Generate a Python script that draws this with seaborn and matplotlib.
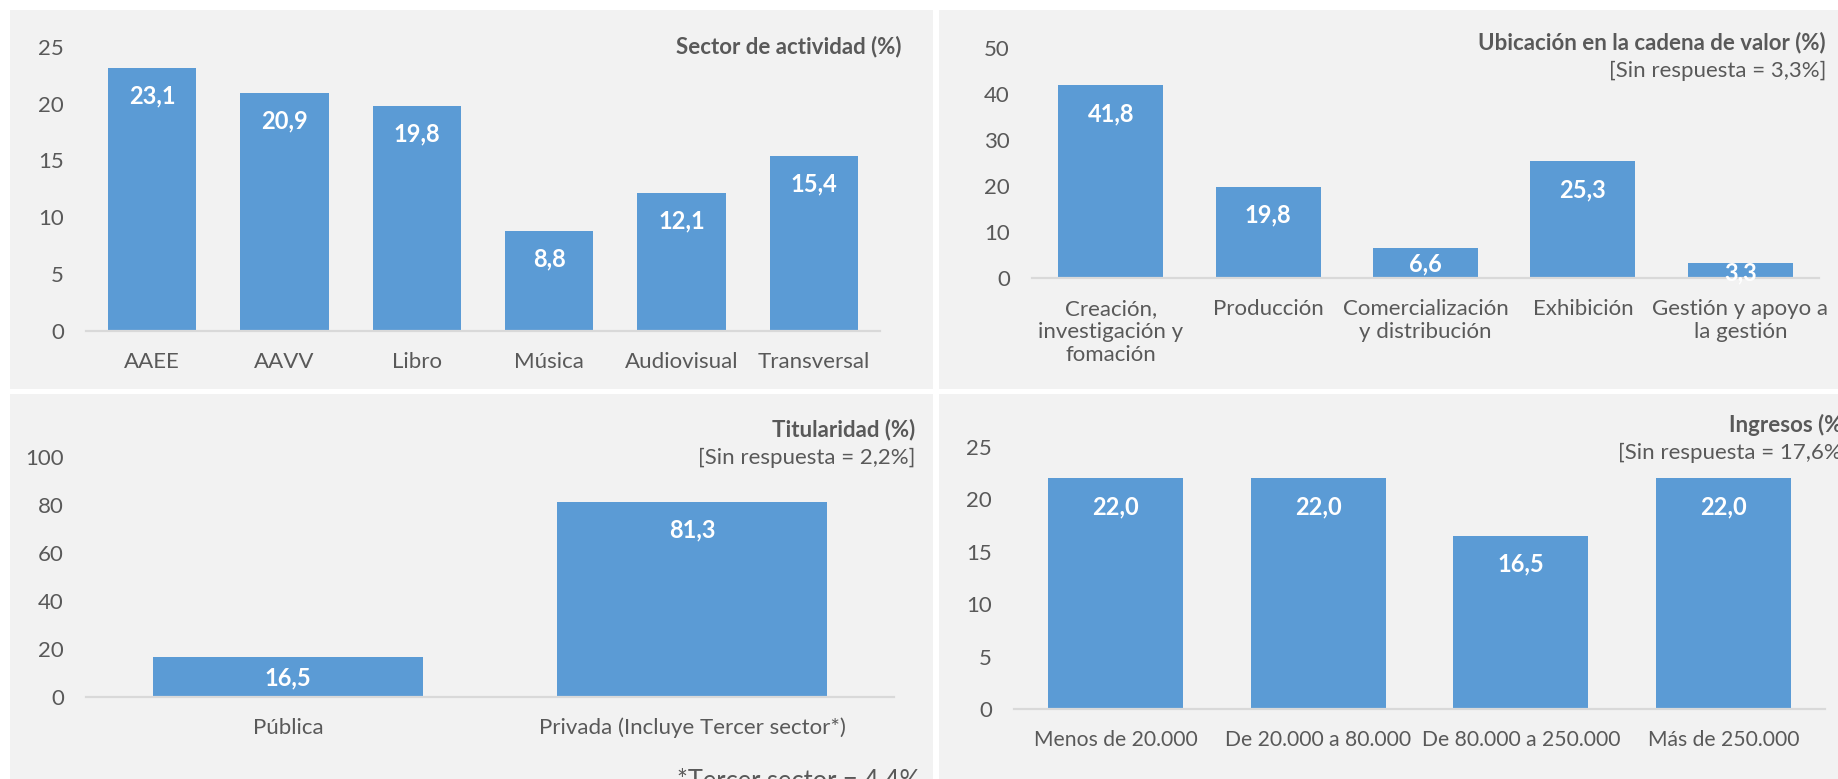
import numpy as np
import pandas as pd
import seaborn as sns
import matplotlib.pyplot as plt
from matplotlib.patches import Rectangle

# -------------------------------------------------------------------------
# Data
# -------------------------------------------------------------------------
sector_labels = ['AAEE', 'AAVV', 'Libro', 'Música', 'Audiovisual', 'Transversal']
sector_values = [23.1, 20.9, 19.8, 8.8, 12.1, 15.4]

cadena_labels = ['Creación,\ninvestigación y\nfomación', 'Producción',
                 'Comercialización\ny distribución', 'Exhibición',
                 'Gestión y apoyo a\nla gestión']
cadena_values = [41.8, 19.8, 6.6, 25.3, 3.3]

titular_labels = ['Pública', 'Privada (Incluye Tercer sector*)']
titular_values = [16.5, 81.3]

ingresos_labels = ['Menos de 20.000', 'De 20.000 a 80.000',
                   'De 80.000 a 250.000', 'Más de 250.000']
ingresos_values = [22.0, 22.0, 16.5, 22.0]

# -------------------------------------------------------------------------
# Style
# -------------------------------------------------------------------------
sns.set_theme(style='white')
plt.rcParams['font.family'] = ['Lato', 'DejaVu Sans']

BAR = '#5B9BD5'
PANEL = '#F2F2F2'
TEXT = '#595959'
AXLINE = '#D9D9D9'
FS = 16

W, H = 1838, 779
fig = plt.figure(figsize=(W / 100, H / 100), dpi=100, facecolor='white')


def fx(x):
    return x / W


def fy(y):
    return 1 - y / H


# grey panel backgrounds (pixel boxes: left, top, right, bottom)
for l, t, r, b in [(10, 10, 933, 389), (939, 10, 1845, 389),
                   (10, 394, 933, 785), (939, 394, 1845, 785)]:
    fig.patches.append(Rectangle((fx(l), fy(b)), fx(r - l), (b - t) / H,
                                 transform=fig.transFigure, facecolor=PANEL,
                                 edgecolor='none', zorder=-5))


def make_panel(left, right, top, bottom, labels, values, ymax, ystep,
               linesp=1.15, xfs=FS):
    ax = fig.add_axes([fx(left), fy(bottom), fx(right - left), (bottom - top) / H])
    ax.set_facecolor('none')
    df = pd.DataFrame({'cat': labels, 'val': values})
    sns.barplot(data=df, x='cat', y='val', color=BAR, saturation=1,
                width=0.667, linewidth=0, ax=ax)
    ax.set_xlim(-0.5, len(labels) - 0.5)
    ax.set_ylim(0, ymax)
    ax.set_yticks(np.arange(0, ymax + 1, ystep))
    ax.set_xlabel('')
    ax.set_ylabel('')
    for s in ['top', 'left', 'right']:
        ax.spines[s].set_visible(False)
    ax.spines['bottom'].set_color(AXLINE)
    ax.spines['bottom'].set_linewidth(1.6)
    ax.spines['bottom'].set_zorder(3)
    ax.tick_params(axis='both', length=0, labelsize=FS, labelcolor=TEXT)
    ax.tick_params(axis='y', pad=16)
    ax.tick_params(axis='x', pad=15, labelsize=xfs)
    for lab in ax.get_xticklabels():
        lab.set_linespacing(linesp)

    # value labels inside the top of each bar
    ppu = (bottom - top) / ymax
    for i, v in enumerate(values):
        bar_px = v * ppu
        off = min(28, bar_px * 0.45 + 3)
        ax.annotate(f'{v:.1f}'.replace('.', ','), xy=(i, v), xytext=(0, -off * 0.72),
                    textcoords='offset points', ha='center', va='center',
                    color='white', fontsize=FS + 1, fontweight='bold', zorder=5,
                    annotation_clip=False)
    return ax


def title(x, y, s, bold=True, size=FS):
    fig.text(fx(x), fy(y), s, ha='right', va='center', color=TEXT,
             fontsize=size, fontweight='bold' if bold else 'normal')


# --- Panel 1: Sector de actividad ---
make_panel(86, 880, 46.7, 331, sector_labels, sector_values, 25, 5)
title(901, 47, 'Sector de actividad (%)')

# --- Panel 2: Ubicación en la cadena de valor ---
make_panel(1032, 1819, 47.7, 278, cadena_labels, cadena_values, 50, 10, linesp=1.2)
title(1826, 43, 'Ubicación en la cadena de valor (%)')
title(1826, 71, '[Sin respuesta = 3,3%]', bold=False)

# --- Panel 3: Titularidad ---
make_panel(86, 894, 457, 697, titular_labels, titular_values, 100, 20)
title(915, 430, 'Titularidad (%)')
title(915, 458, '[Sin respuesta = 2,2%]', bold=False)
fig.text(fx(920), fy(768), '*Tercer sector = 4,4%', ha='right', va='top',
         color=TEXT, fontsize=FS * 1.15)

# --- Panel 4: Ingresos ---
make_panel(1014, 1825, 447, 709, ingresos_labels, ingresos_values, 25, 5, xfs=15.2)
title(1848, 425, 'Ingresos (%)')
title(1848, 453, '[Sin respuesta = 17,6%]', bold=False)

fig.savefig('out.png', dpi=100, facecolor='white')
